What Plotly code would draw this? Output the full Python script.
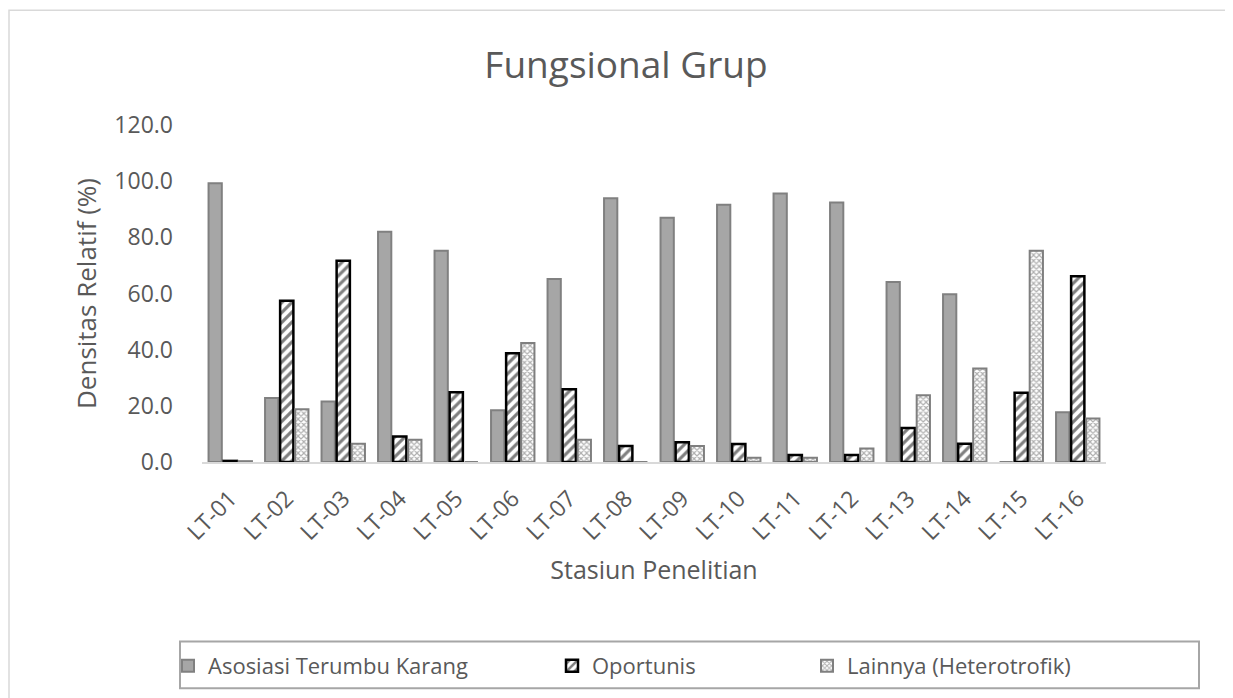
import plotly.graph_objects as go

stations = ["LT-01", "LT-02", "LT-03", "LT-04", "LT-05", "LT-06", "LT-07", "LT-08",
            "LT-09", "LT-10", "LT-11", "LT-12", "LT-13", "LT-14", "LT-15", "LT-16"]
asosiasi = [99.3, 22.8, 21.5, 82.0, 75.2, 18.4, 65.2, 93.9, 87.0, 91.6, 95.6, 92.4, 64.1, 59.7, 0.0, 17.7]
oportunis = [0.4, 57.4, 71.7, 9.1, 24.8, 38.7, 25.9, 5.7, 7.0, 6.4, 2.5, 2.5, 12.1, 6.5, 24.7, 66.1]
lainnya = [0.3, 18.8, 6.5, 7.9, 0.0, 42.4, 7.9, 0.0, 5.7, 1.5, 1.5, 4.8, 23.8, 33.3, 75.2, 15.5]
y_ticks = [0, 20, 40, 60, 80, 100, 120]

FONT = "Open Sans"
TXT = "#595959"

# page offset (body margin) and figure size
OFF = 8
W, H = 1233 - OFF, 698 - OFF
# plot area in reference-page pixels
X0, X1, Y0, Y1 = 202, 1106, 125, 463
ML, MR, MT, MB = X0 - OFF, W - (X1 - OFF), Y0 - OFF, H - (Y1 - OFF)
PW = X1 - X0
PH = Y1 - Y0


def px_x(p):
    return (p - X0) / PW


def px_y(p):
    return (Y1 - p) / PH


fig = go.Figure()
fig.add_trace(go.Bar(
    x=stations, y=asosiasi, name="Asosiasi Terumbu Karang", legend="legend",
    marker=dict(color="#a6a6a6", line=dict(color="#808080", width=2)),
))
fig.add_trace(go.Bar(
    x=stations, y=oportunis, name="Oportunis", legend="legend2",
    marker=dict(color="white", line=dict(color="black", width=2.5),
                pattern=dict(shape="/", fgcolor="black", bgcolor="white", size=7, solidity=0.45)),
))
fig.add_trace(go.Bar(
    x=stations, y=lainnya, name="Lainnya (Heterotrofik)", legend="legend3",
    marker=dict(color="white", line=dict(color="#7f7f7f", width=2),
                pattern=dict(shape="x", fgcolor="#5f5f5f", bgcolor="white", size=4, solidity=0.5)),
))

legend_common = dict(orientation="h", yanchor="middle", xanchor="left",
                     font=dict(family=FONT, size=22, color=TXT),
                     bgcolor="rgba(0,0,0,0)", borderwidth=0, visible=True)

fig.update_layout(
    width=W, height=H,
    margin=dict(l=ML, r=MR, t=MT, b=MB),
    paper_bgcolor="white", plot_bgcolor="white",
    showlegend=True,
    barmode="group", bargap=0.2, bargroupgap=0.12,
    title=dict(text="Fungsional Grup", x=(626 - OFF) / W, xref="container", xanchor="center",
               y=1 - (65 - OFF) / H, yref="container", yanchor="middle",
               font=dict(family=FONT, size=37, color=TXT)),
    font=dict(family=FONT, color=TXT),
    xaxis=dict(showline=True, linecolor="#d9d9d9", linewidth=2, showgrid=False,
               ticks="outside", ticklen=12, tickcolor="rgba(0,0,0,0)", tickangle=-45,
               tickfont=dict(family=FONT, size=23, color=TXT),
               title=dict(text="Stasiun Penelitian", standoff=16,
                          font=dict(family=FONT, size=25, color=TXT))),
    yaxis=dict(range=[0, 120], tickvals=y_ticks, tickformat=".1f", showgrid=False,
               showline=False, zeroline=False, ticks="", ticklabelstandoff=28,
               tickfont=dict(family=FONT, size=23, color=TXT),
               title=dict(text="Densitas Relatif (%)", standoff=10,
                          font=dict(family=FONT, size=26, color=TXT))),
    legend=dict(x=px_x(168), y=px_y(666), **legend_common),
    legend2=dict(x=px_x(552), y=px_y(666), **legend_common),
    legend3=dict(x=px_x(807), y=px_y(666), **legend_common),
    shapes=[
        dict(type="rect", xref="paper", yref="paper",
             x0=px_x(9), x1=px_x(1245), y0=px_y(710), y1=px_y(10),
             line=dict(color="#d9d9d9", width=1.5), fillcolor="rgba(0,0,0,0)", layer="below"),
        dict(type="rect", xref="paper", yref="paper",
             x0=px_x(180), x1=px_x(1199), y0=px_y(690), y1=px_y(643),
             line=dict(color="#a6a6a6", width=2), fillcolor="rgba(0,0,0,0)", layer="below"),
    ],
)

fig.write_html("out.html")
